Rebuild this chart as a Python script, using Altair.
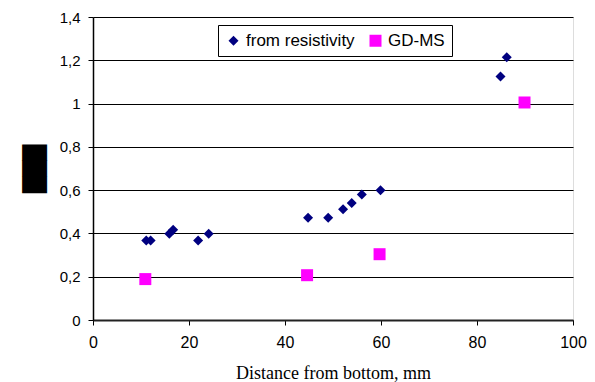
import altair as alt
import pandas as pd

# from resistivity
x_res = [11.1, 12.0, 15.9, 16.7, 21.9, 24.1, 44.8, 49.0, 52.1, 53.9, 56.0, 59.9, 84.9, 86.2]
y_res = [0.367, 0.367, 0.398, 0.417, 0.367, 0.398, 0.473, 0.473, 0.512, 0.541, 0.580, 0.600, 1.125, 1.214]
# GD-MS
x_gd = [10.9, 44.6, 59.7, 89.9]
y_gd = [0.189, 0.207, 0.304, 1.005]

series_names = ["from resistivity", "GD-MS"]
colors = ["#000080", "#FF00FF"]
shapes = ["diamond", "square"]
sizes = [100, 144]

df = pd.DataFrame({
    "x": x_res + x_gd,
    "y": y_res + y_gd,
    "series": [series_names[0]] * len(x_res) + [series_names[1]] * len(x_gd),
})

chart = alt.Chart(df).mark_point(filled=True, opacity=1).encode(
    x=alt.X("x:Q", scale=alt.Scale(domain=[0, 100], nice=False),
            axis=alt.Axis(values=[0, 20, 40, 60, 80, 100], grid=False,
                          labelFlush=False,
                          title="Distance from bottom, mm",
                          titleFont="Liberation Serif", titleFontSize=18,
                          titleFontWeight="normal", titleColor="black",
                          titlePadding=14,
                          labelFont="Liberation Sans", labelFontSize=16,
                          labelColor="black", labelPadding=9,
                          tickSize=5, tickColor="black", domainColor="#222",
                          domainWidth=2)),
    y=alt.Y("y:Q", scale=alt.Scale(domain=[0, 1.4], nice=False),
            axis=alt.Axis(values=[0, 0.2, 0.4, 0.6, 0.8, 1.0, 1.2, 1.4],
                          labelExpr="replace(format(datum.value, '.1~f'), '.', ',')",
                          labelFlush=False,
                          grid=True, gridColor="black", gridWidth=1,
                          title="███", titleFont="DejaVu Sans", titleFontSize=21,
                          titleColor="black", titleFontWeight="normal",
                          titlePadding=14,
                          labelFont="Liberation Sans", labelFontSize=15,
                          labelColor="black", labelPadding=8,
                          tickSize=5, tickColor="black", domainColor="black",
                          domainWidth=1.5)),
    color=alt.Color("series:N", scale=alt.Scale(domain=series_names, range=colors),
                    legend=alt.Legend(title=None, orient="none", legendX=125, legendY=8,
                                      direction="horizontal",
                                      strokeColor="black", fillColor="white",
                                      padding=7, columnPadding=12,
                                      labelFont="Liberation Sans", labelFontSize=17,
                                      labelColor="black", symbolSize=70,
                                      symbolStrokeWidth=0, labelOffset=4)),
    shape=alt.Shape("series:N", scale=alt.Scale(domain=series_names, range=shapes)),
    size=alt.Size("series:N", scale=alt.Scale(domain=series_names, range=sizes), legend=None),
).properties(
    width=480, height=303,
    autosize=alt.AutoSizeParams(type="none"),
    padding={"left": 93, "top": 17, "right": 22, "bottom": 62},
).configure_view(
    stroke="#999999", strokeWidth=2
).configure(background="white")

chart.save("out.html", embed_options={"renderer": "svg", "actions": False})
